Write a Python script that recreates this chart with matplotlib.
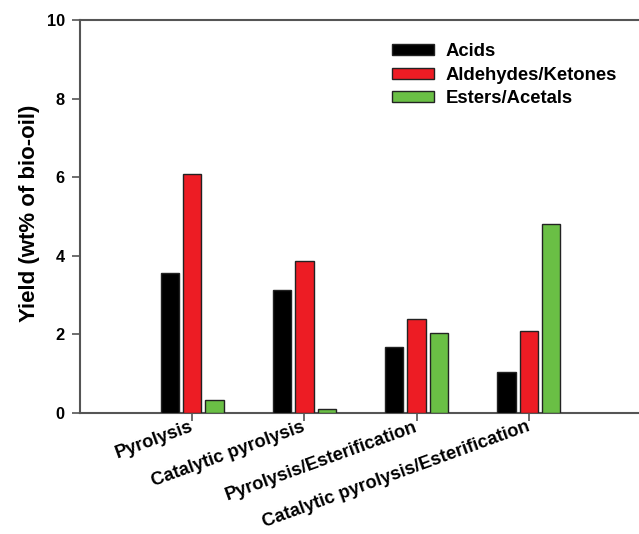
import matplotlib
matplotlib.use("Agg")
import matplotlib.pyplot as plt
import matplotlib.transforms as mtransforms
import numpy as np

categories = ["Pyrolysis", "Catalytic pyrolysis", "Pyrolysis/Esterification",
              "Catalytic pyrolysis/Esterification"]
series_names = ["Acids", "Aldehydes/Ketones", "Esters/Acetals"]
acids = [3.57, 3.13, 1.69, 1.04]
aldehydes = [6.08, 3.87, 2.39, 2.09]
esters = [0.34, 0.09, 2.03, 4.80]
colors = ["#000000", "#ED1C24", "#6ABF45"]
yticks = [0, 2, 4, 6, 8, 10]

plt.rcParams['font.family'] = ['Liberation Sans', 'DejaVu Sans']
plt.rcParams['font.weight'] = 'bold'

W, H = 639, 534
fig = plt.figure(figsize=(W / 100, H / 100), dpi=100)
ax = fig.add_axes([80 / W, (H - 413) / H, 561 / W, 393 / H])

x = np.arange(len(categories))
width = 0.165
step = 0.2
for i, (vals, name, c) in enumerate(zip([acids, aldehydes, esters], series_names, colors)):
    ax.bar(x + (i - 1) * step, vals, width, color=c, edgecolor="#222222",
           linewidth=1.0, label=name, zorder=3)

ax.set_xlim(-1, 4)
ax.set_ylim(0, 10)
ax.set_yticks(yticks)
ax.set_yticklabels([str(v) for v in yticks], fontsize=11.8, fontweight='bold')
ax.set_xticks(x)
ax.set_xticklabels(categories, fontsize=13.2, fontweight='bold', rotation=20,
                   ha='right', va='center', rotation_mode='anchor')
offset = mtransforms.ScaledTranslation(3 / 100, -27 / 100, fig.dpi_scale_trans)
for lab in ax.get_xticklabels():
    lab.set_transform(lab.get_transform() + offset)

for s in ["left", "bottom", "top"]:
    ax.spines[s].set_color("#555555")
    ax.spines[s].set_linewidth(1.5)
ax.spines["right"].set_visible(False)
ax.tick_params(axis='both', direction='out', length=6, width=1.2, color="#555555")
ax.tick_params(axis='y', pad=5)

ax.set_ylabel("Yield (wt% of bio-oil)", fontsize=16, fontweight='bold')
ax.yaxis.set_label_coords(-40 / 561, (413 - 213) / 393)

leg = ax.legend(loc='upper left', bbox_to_anchor=(392 / W, (H - 43) / H),
                bbox_transform=fig.transFigure, frameon=False, fontsize=13.3,
                handlelength=2.27, handleheight=0.54, handletextpad=0.65,
                labelspacing=0.36, borderpad=0, borderaxespad=0)
for t in leg.get_texts():
    t.set_fontweight('bold')

fig.savefig("out.png", dpi=100)
